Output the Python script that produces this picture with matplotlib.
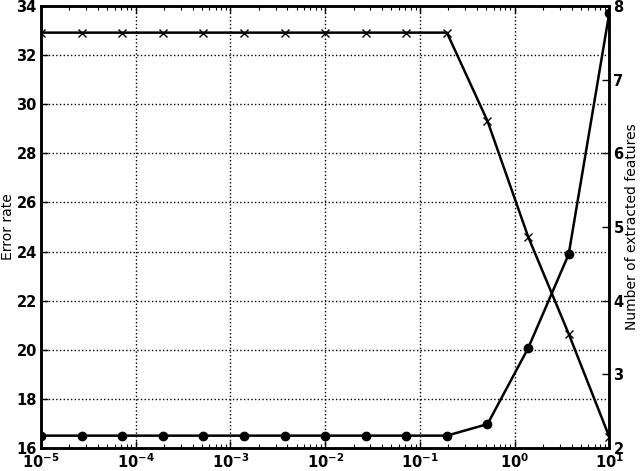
import matplotlib
matplotlib.use("Agg")
import matplotlib.pyplot as plt
import numpy as np
from matplotlib.ticker import LogLocator, FixedLocator

# regularisation parameter, 15 points per run
lambdas = np.logspace(-5, 1, 15)
error_rate = [16.5, 16.5, 16.5, 16.5, 16.5, 16.5, 16.5, 16.5, 16.5, 16.5,
              16.5, 16.97, 20.06, 23.89, 33.72]
n_features = [7.64, 7.64, 7.64, 7.64, 7.64, 7.64, 7.64, 7.64, 7.64, 7.64,
              7.64, 6.44, 4.87, 3.55, 2.15]

left_ticks = [16, 18, 20, 22, 24, 26, 28, 30, 32, 34]
right_ticks = [2, 3, 4, 5, 6, 7, 8]

fig = plt.figure(figsize=(6.4, 4.71), dpi=100)
ax = fig.add_axes([0.064, 0.049, 0.888, 0.938])
ax2 = ax.twinx()

ax.semilogx(lambdas, error_rate, color="black", linewidth=1.8, marker="o", markersize=6)
ax2.semilogx(lambdas, n_features, color="black", linewidth=1.8, marker="x", markersize=6,
             markeredgewidth=1.0)

ax.set_xlim(1e-5, 1e1)
ax.set_ylim(16, 34)
ax2.set_ylim(2, 8)
ax.yaxis.set_major_locator(FixedLocator(left_ticks))
ax2.yaxis.set_major_locator(FixedLocator(right_ticks))
ax.xaxis.set_major_locator(LogLocator(base=10, numticks=10))
ax.xaxis.set_minor_locator(LogLocator(base=10, subs=np.arange(2, 10), numticks=20))

ax.grid(True, which="major", linestyle=":", color="black", linewidth=1.0)

for a in (ax, ax2):
    a.tick_params(direction="in", which="major", length=5, width=1, labelsize=10.5, pad=3)
    a.tick_params(direction="in", which="minor", length=3, width=0.8)
    for lab in a.get_xticklabels() + a.get_yticklabels():
        lab.set_fontweight("bold")
    for s in a.spines.values():
        s.set_linewidth(1.8)
ax.tick_params(top=True, which="both")
ax.tick_params(axis="x", pad=3)

ax.set_ylabel("Error rate", fontsize=10, labelpad=1)
ax2.set_ylabel("Number of extracted features", fontsize=10, labelpad=1)

fig.savefig("out.png", dpi=100)
